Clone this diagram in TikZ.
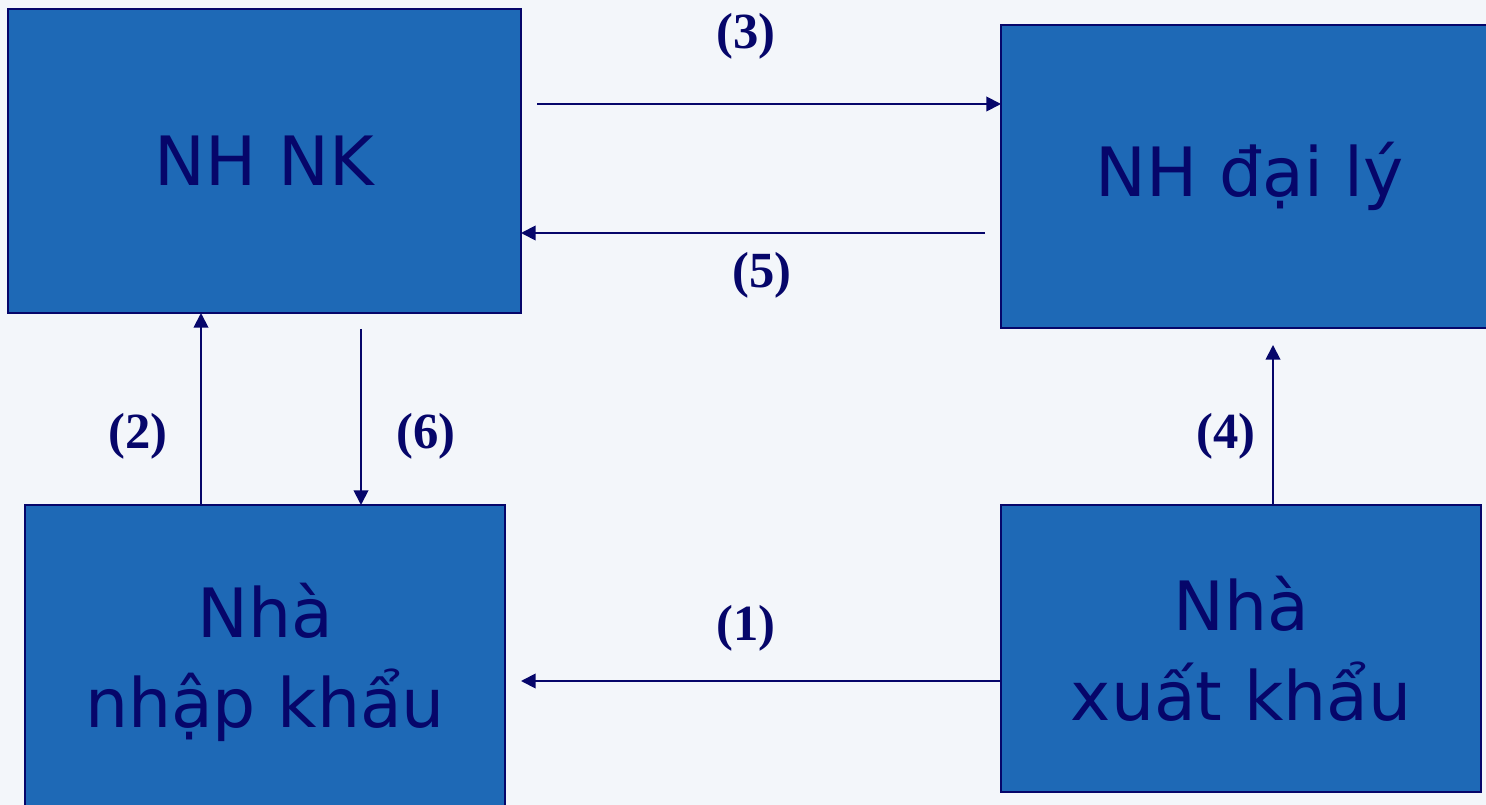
\documentclass[tikz,border=0pt]{standalone}
\usepackage{fontspec}
\setmainfont{DejaVu Sans}
\newfontfamily\lblfont{Liberation Serif}
\usetikzlibrary{arrows.meta,calc}
\definecolor{boxfill}{HTML}{1E69B6}
\definecolor{navy}{HTML}{06066A}
\definecolor{bgc}{HTML}{F3F6FA}
\tikzset{
  box/.style={draw=navy, line width=1.6pt, fill=boxfill, text=navy, outer sep=0pt,
    align=center, font=\fontsize{51}{67.5}\selectfont, inner sep=0pt},
  arr/.style={draw=navy, line width=1.4pt, -{Triangle[length=11pt,width=11pt]}},
  lbl/.style={text=navy, font=\lblfont\bfseries\fontsize{38}{42}\selectfont, inner sep=0pt}
}
\begin{document}
\begin{tikzpicture}[x=0.75pt,y=-0.75pt]
\fill[bgc] (0,0) rectangle (1486,805);
\useasboundingbox (0,0) rectangle (1486,805);
\node[box, minimum width=513*0.75pt, minimum height=304*0.75pt] (nhnk) at (264.5,161) {NH NK};
\node[box, minimum width=498*0.75pt, minimum height=303*0.75pt] (dl) at (1250,176.5) {NH đại lý};
\node[box, minimum width=480*0.75pt, minimum height=314*0.75pt] (nk) at (265,662) {Nhà\\nhập khẩu};
\node[box, minimum width=480*0.75pt, minimum height=287*0.75pt] (xk) at (1241,648.5) {Nhà\\xuất khẩu};
\coordinate (a3) at (537,104);
\coordinate (a5) at (985,233);
\coordinate (a2) at (201,505);
\coordinate (a6) at (361,329);
\coordinate (a4) at (1273,345);
\coordinate (a1) at (521,681);
\draw[arr] (a3) -- (a3 -| dl.west);
\draw[arr] (a5) -- (a5 -| nhnk.east);
\draw[arr] (nk.north -| a2) -- (nhnk.south -| a2);
\draw[arr] (a6) -- (nk.north -| a6);
\draw[arr] (xk.north -| a4) -- (a4);
\draw[arr] (xk.west |- a1) -- (a1);
\node[lbl] (l3) at (746,36) {(3)};
\node[lbl] (l5) at (762,275) {(5)};
\node[lbl] (l2) at (138,436) {(2)};
\node[lbl] (l6) at (426,436) {(6)};
\node[lbl] (l4) at (1226,436) {(4)};
\node[lbl] (l1) at (746,628) {(1)};
\end{tikzpicture}
\end{document}
